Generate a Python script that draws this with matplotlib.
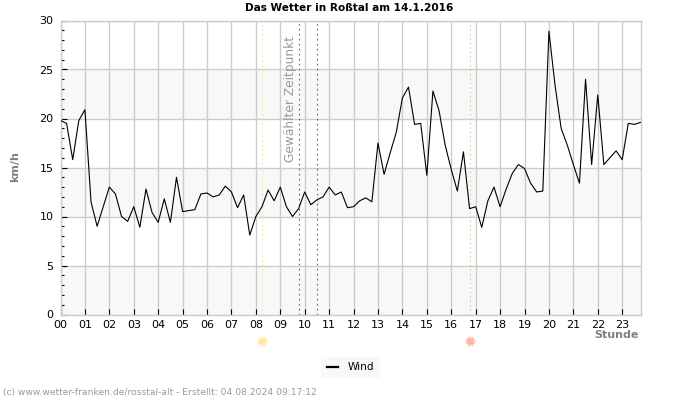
"""Wind chart for one day"""
import matplotlib

matplotlib.use("Agg")
import matplotlib.pyplot as plt
from matplotlib.transforms import blended_transform_factory

# one value every 15 minutes
wind = [
    19.8, 19.5, 15.8, 19.8,
    20.9, 11.5, 9.0, 11.0,
    13.0, 12.3, 10.0, 9.5,
    11.0, 8.9, 12.8, 10.4,
    9.4, 11.8, 9.4, 14.0,
    10.5, 10.6, 10.7, 12.3,
    12.4, 12.0, 12.2, 13.1,
    12.5, 10.9, 12.2, 8.1,
    10.0, 11.0, 12.7, 11.6,
    13.0, 11.0, 10.0, 10.8,
    12.5, 11.2, 11.7, 12.0,
    13.0, 12.2, 12.5, 10.9,
    11.0, 11.6, 11.9, 11.5,
    17.5, 14.3, 16.5, 18.6,
    22.1, 23.2, 19.4, 19.5,
    14.2, 22.8, 20.8, 17.3,
    14.8, 12.6, 16.6, 10.8,
    11.0, 8.9, 11.6, 13.0,
    11.0, 12.8, 14.4, 15.3,
    14.9, 13.4, 12.5, 12.6,
    28.9, 23.4, 19.0, 17.3,
    15.3, 13.4, 24.0, 15.3,
    22.4, 15.3, 16.0, 16.7,
    15.8, 19.5, 19.4, 19.6,
]
hours = [i / 4 for i in range(len(wind))]
hour_labels = [f"{h:02d}" for h in range(24)]
bands = [(0, 5), (10, 15), (20, 25)]
sunrise = 8.25
sunset = 16.75
selected = [9.75, 10.5]

GRID = "#cccccc"
GREY = "#808080"

fig = plt.figure(figsize=(7, 4), dpi=100)
ax = fig.add_axes([60.5 / 700, 1 - 314.5 / 400, 580 / 700, 294 / 400])

for low, high in bands:
    ax.axhspan(low, high, color="#f8f8f8", lw=0, zorder=0)
ax.grid(True, color=GRID, lw=1.0, zorder=1)
ax.set_axisbelow(True)

ax.axvline(sunrise, color="#ffe68c", lw=0.8, ls=(0, (1.5, 2.5)), zorder=2)
ax.axvline(sunset, color="#f5c878", lw=0.8, ls=(0, (1.5, 2.5)), zorder=2)
for t in selected:
    ax.axvline(t, color="#666666", lw=0.8, ls=(0, (1.5, 3)), zorder=2)

line, = ax.plot(hours, wind, color="black", lw=0.8, zorder=3, label="Wind")

ax.set_xlim(0, 23.75)
ax.set_ylim(0, 30)
ax.set_xticks(range(24), hour_labels)
ax.set_yticks(range(0, 31, 5))
ax.set_yticks(range(0, 31), minor=True)
ax.tick_params(axis="x", direction="in", length=4, width=0.8, labelsize=8, pad=4)
ax.tick_params(axis="y", which="major", direction="in", length=4, width=0.8, labelsize=8, pad=5, right=False)
ax.tick_params(axis="y", which="minor", direction="in", length=2, width=0.8)
for spine in ax.spines.values():
    spine.set_color(GRID)
    spine.set_linewidth(1.0)

# sun markers below the axis
trans = blended_transform_factory(ax.transData, fig.transFigure)
sun_y = 1 - 341 / 400
for t, color in [(sunrise, "#ffe9a0"), (sunset, "#ffb8a0")]:
    ax.scatter([t], [sun_y], s=50, marker=(12, 2, 0), color=color, lw=0.5, transform=trans, clip_on=False)
    ax.scatter([t], [sun_y], s=24, marker="o", color=color, lw=0, transform=trans, clip_on=False)

fig.text(349 / 700, 1 - 8 / 400, "Das Wetter in Roßtal am 14.1.2016", ha="center", va="center",
         fontsize=7.6, fontweight="bold", color="black")
fig.text(15.5 / 700, 1 - 167 / 400, "km/h", rotation=90, ha="center", va="center",
         fontsize=8, fontweight="bold", color=GREY)
fig.text(639 / 700, 1 - 334.5 / 400, "Stunde", ha="right", va="center",
         fontsize=8, fontweight="bold", color=GREY)
fig.text(290.5 / 700, 1 - 99 / 400, "Gewählter Zeitpunkt", rotation=90, ha="center", va="center",
         fontsize=8.8, color="#999999")
fig.text(3 / 700, 1 - 393 / 400, "(c) www.wetter-franken.de/rosstal-alt - Erstellt: 04.08.2024 09:17:12",
         ha="left", va="center", fontsize=6.6, color="#999999")

legend = fig.legend(handles=[line], loc="center", bbox_to_anchor=(350.5 / 700, 1 - 367.5 / 400),
                    fontsize=7.6, frameon=True, fancybox=False, facecolor="#f8f8f8", edgecolor="none",
                    framealpha=1, handlelength=1.1, handletextpad=0.9, borderpad=0.55)
legend.get_lines()[0].set_linewidth(1.6)

fig.savefig("out.png", dpi=100)
